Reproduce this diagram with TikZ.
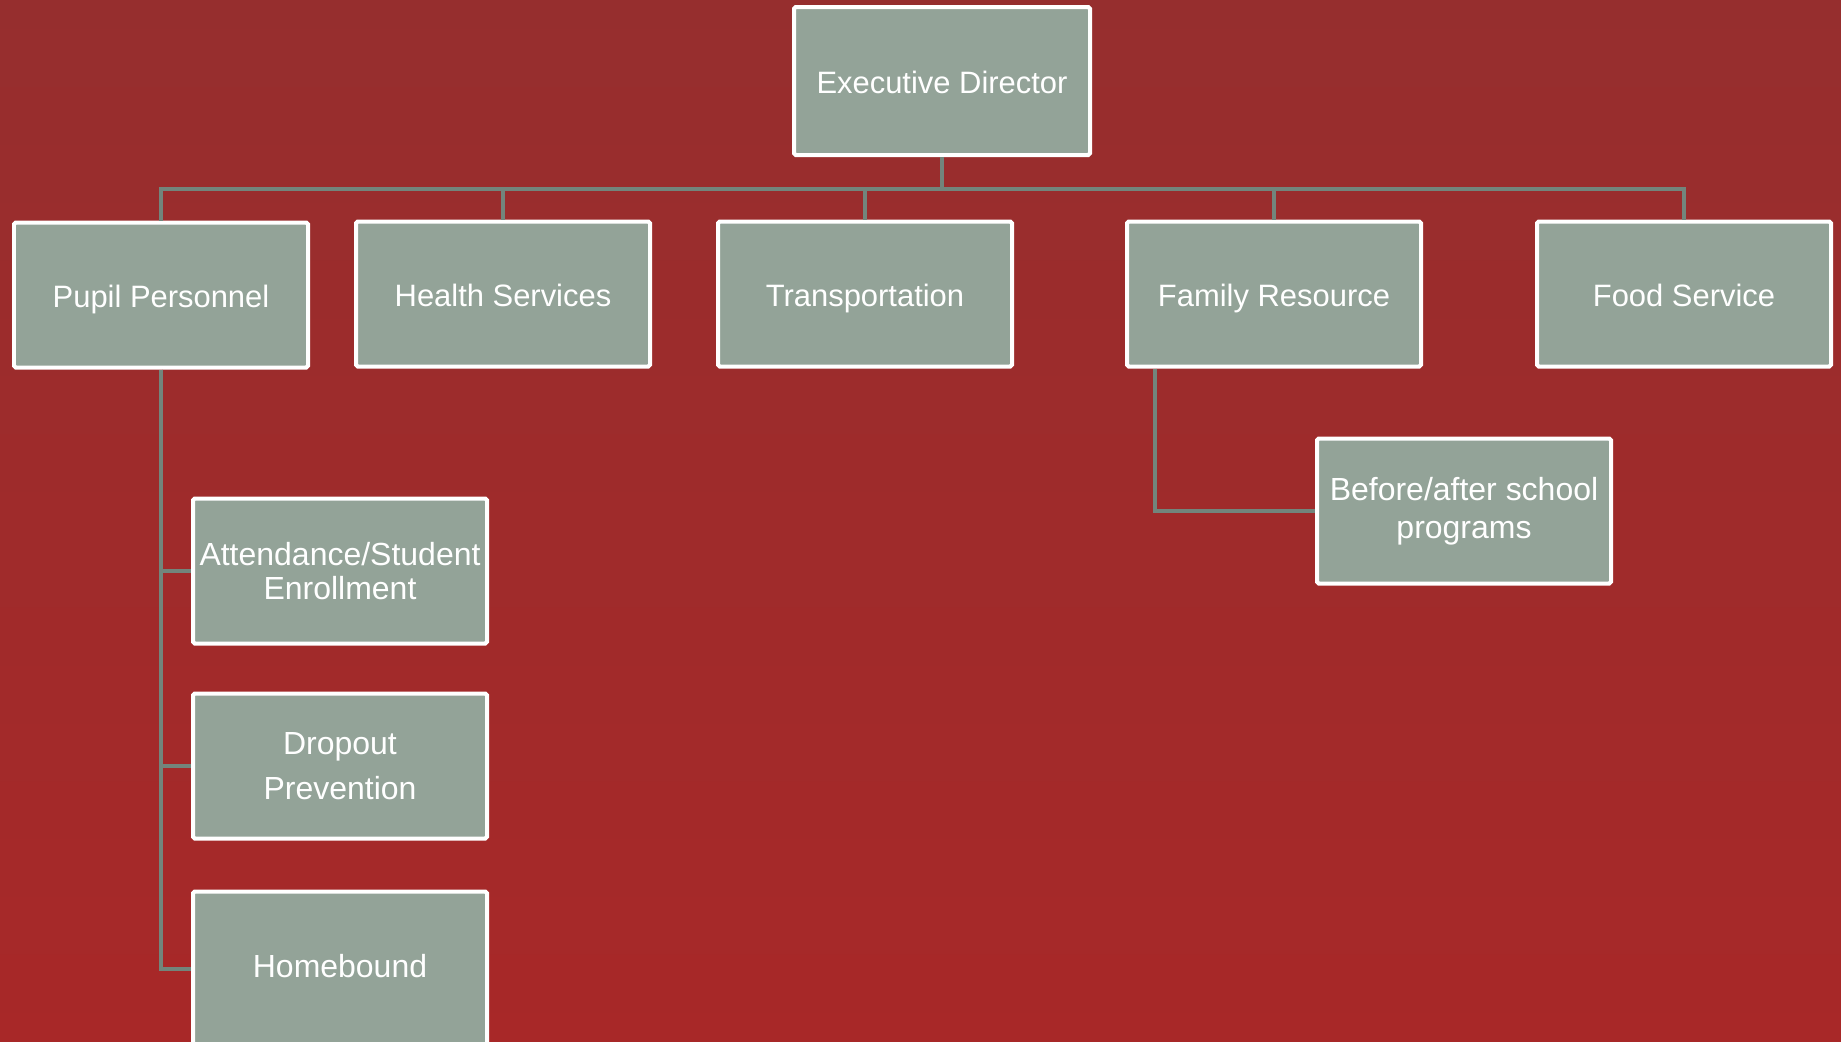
\documentclass[tikz,border=0pt]{standalone}
\usepackage{fontspec}
\setmainfont{Liberation Sans}
\usepackage{xcolor}
\definecolor{SageGrey}{HTML}{93A398}
\definecolor{LinkGrey}{HTML}{72857C}
\definecolor{SlateRedTop}{HTML}{962E2E}
\definecolor{SlateRedBottom}{HTML}{A82828}
\usepackage{tikz}

\begin{document}
\begin{tikzpicture}[
	box/.style={draw=white, line width=0.04cm, fill=SageGrey, text=white, rounded corners=0.5pt, align=center, minimum width=2.94cm, minimum height=1.45cm, inner sep=1pt, font=\fontsize{8.8}{10.5}\selectfont},
	headbox/.style={box, text height=7.8pt, text depth=0.6pt},
	subbox/.style={box, font=\fontsize{9.1}{9.6}\selectfont},
	link/.style={LinkGrey, line width=0.04cm}]
			\shade[top color=SlateRedTop, bottom color=SlateRedBottom] (0, 0) rectangle (18.41, -10.41);
			\useasboundingbox (0, 0) rectangle (18.41, -10.41);
			\node[headbox, minimum width=2.96cm, minimum height=1.48cm] (ED) at (9.42, -0.81) {Executive Director};
			\node[headbox] (PP) at (1.61, -2.95) {Pupil Personnel};
			\node[headbox] (HS) at (5.03, -2.94) {Health Services};
			\node[headbox] (TR) at (8.65, -2.94) {Transportation};
			\node[headbox] (FR) at (12.74, -2.94) {Family Resource};
			\node[headbox] (FS) at (16.84, -2.94) {Food Service};
			\node[subbox] (AS) at (3.40, -5.71) {Attendance/Student\\Enrollment};
			\node[subbox] (DP) at (3.40, -7.66) {Dropout\\[3.4pt]Prevention};
			\node[subbox, minimum height=1.55cm, text height=6.5pt, text depth=1.9pt] (HB) at (3.40, -9.69) {Homebound};
			\node[subbox, font=\fontsize{9.1}{10.7}\selectfont] (BA) at (14.64, -5.11) {Before/after school\\programs};
			\coordinate (bus) at (9.42, -1.89);
			\draw[link] (ED) -- (bus);
			\foreach \n in {PP, HS, TR, FR, FS}
				\draw[link] (bus) -| (\n);
			\foreach \n in {AS, DP, HB}
				\draw[link] (PP) |- (\n);
			\draw[link] ([xshift=0.3cm]FR.south west) |- (BA);
\end{tikzpicture}
\end{document}
